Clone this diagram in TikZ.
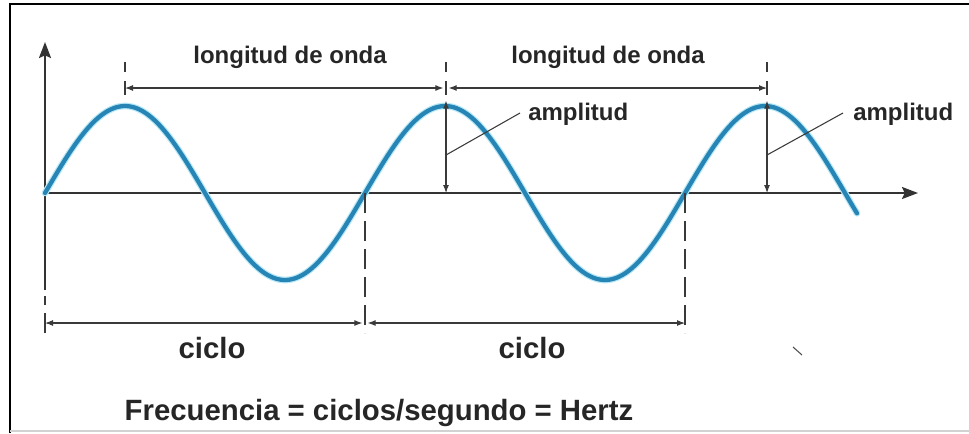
\documentclass[tikz,border=0pt]{standalone}
\usepackage{fontspec}
\setmainfont{Liberation Sans}
\usetikzlibrary{arrows.meta, positioning}
\definecolor{wavecol}{HTML}{2685B5}
\definecolor{waveglow}{HTML}{B8E8F6}
\definecolor{inkline}{HTML}{3A3A3A}

\begin{document}
\begin{tikzpicture}[
  x=0.75pt, y=-0.75pt,
  lbl/.style={font=\fontsize{18}{21}\selectfont\bfseries, text=black!85, inner sep=0pt},
  biglbl/.style={font=\fontsize{22}{26}\selectfont\bfseries, text=black!85, inner sep=0pt},
  axis/.style={-{Stealth[length=12pt, width=9pt, inset=2pt]}, line width=1.4pt, color=black!80},
  dim/.style={{Latex[length=6pt, width=4.5pt]}-{Latex[length=6pt, width=4.5pt]}, line width=0.8pt, color=inkline},
  ext/.style={line width=0.9pt, color=inkline, dash pattern=on 15pt off 6pt},
  lead/.style={line width=0.8pt, color=inkline},
  wave/.style={line width=3.2pt, color=wavecol, line cap=round},
  glow/.style={line width=5pt, color=waveglow, line cap=round},
]
\useasboundingbox (0,0) rectangle (969,433);

% Frame
\draw[line width=2.2pt] (10,433) -- (10,4) -- (969,4);
\draw[gray!35, line width=1pt] (10,431) -- (969,431);

% Key points
\coordinate (o) at (45,193);
\coordinate (ytop) at (45,42);
\coordinate (xend) at (918,193);
\coordinate (z1) at (365,193);
\coordinate (z2) at (685,193);
\coordinate (pk1) at (125,106);
\coordinate (pk2) at (446,106);
\coordinate (pk3) at (767,106);

% Axes
\draw[axis] (45,290) -- (ytop);
\draw[axis] (o) -- (xend);

% Wave
\draw[glow] plot[domain=45:857, samples=160, smooth] (\x,{193-87*sin((\x-45)*1.125)});
\draw[wave] plot[domain=45:857, samples=160, smooth] (\x,{193-87*sin((\x-45)*1.125)});

% Wavelength dimensions
\coordinate (w1) at (125,88);
\coordinate (w2) at (446,88);
\coordinate (w3) at (767,88);
\foreach \p in {125,446,767} {
  \draw[lead] (\p,62) -- (\p,72);
  \draw[lead] (\p,81) -- (\p,95);
}
\draw[dim] (w1) -- ([xshift=-2]w2);
\draw[dim] ([xshift=2]w2) -- (w3);
\node[lbl, anchor=base] (lw1) at (290,63) {longitud de onda};
\node[lbl, anchor=base] (lw2) at (608,63) {longitud de onda};

% Amplitude
\coordinate (a1) at (446,193);
\coordinate (a2) at (767,193);
\draw[dim] ([yshift=4]pk2) -- (a1);
\draw[dim] ([yshift=4]pk3) -- (a2);
\node[lbl, anchor=base west] (amp1) at (528,120) {amplitud};
\node[lbl, anchor=base west] (amp2) at (853,120) {amplitud};
\draw[lead] (446,155) -- (520,113);
\draw[lead] (767,155) -- (843,113);

% Cycle dimensions
\coordinate (c0) at (45,323);
\coordinate (c1) at (365,323);
\coordinate (c2) at (685,323);
\draw[lead] (45,296) -- (45,305);
\draw[lead] (45,313) -- (45,333);
\draw[ext] (z1) -- (365,333);
\draw[ext] (z2) -- (685,333);
\draw[dim] (c0) -- ([xshift=-2]c1);
\draw[dim] ([xshift=2]c1) -- (c2);
\node[biglbl, anchor=base] (cy1) at (212,358) {ciclo};
\node[biglbl, anchor=base] (cy2) at (532,358) {ciclo};

% Formula
\node[biglbl, anchor=base] (freq) at (379,420) {Frecuencia = ciclos/segundo = Hertz};

% stray mark
\draw[black!70, line width=0.8pt] (793,347) -- (802,355);
\end{tikzpicture}
\end{document}
